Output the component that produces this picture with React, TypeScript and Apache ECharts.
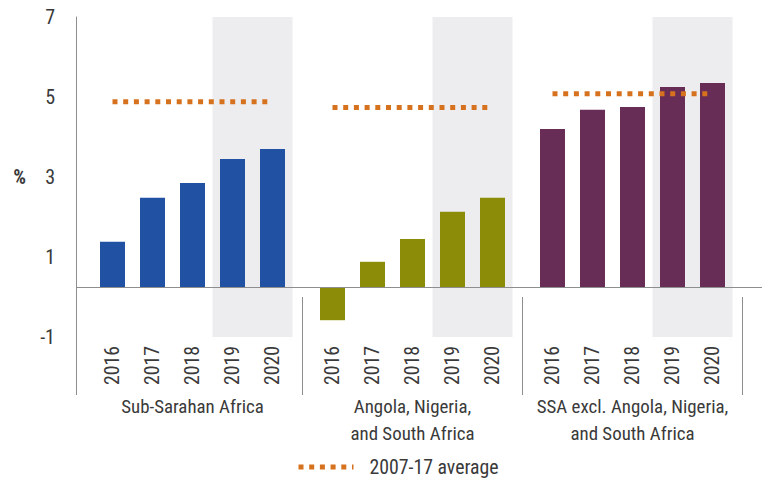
import React, { useEffect, useRef } from "react";
import * as echarts from "echarts";

// ---- data ----
const years = ["2016", "2017", "2018", "2019", "2020"];
const groupNames = [
  "Sub-Sarahan Africa",
  "Angola, Nigeria,\nand South Africa",
  "SSA excl. Angola, Nigeria,\nand South Africa",
];
const ssaValues = [1.13, 2.23, 2.6, 3.2, 3.45];
const angNigSaValues = [-0.83, 0.63, 1.2, 1.88, 2.23];
const ssaExclValues = [3.95, 4.43, 4.5, 5.0, 5.1];
const averages = [4.63, 4.49, 4.83];
const yTickLabels = [-1, 1, 3, 5, 7];
const shadedYears = ["2019", "2020"];
const legendLabel = "2007-17 average";

// ---- layout / style ----
const FONT_CANDIDATES = [
  "Liberation Sans Narrow",
  "Arial Narrow",
  "Roboto Condensed",
  "Noto Sans Condensed",
  "Open Sans Condensed",
  "DejaVu Sans Condensed",
  "Liberation Sans",
  "Roboto",
];
const TEXT = "#3a3a3a";
const AXIS = "#8e8e8e";
const COLORS = ["#2051a3", "#8c8c08", "#682d57"];
const AVG_COLOR = "#d6711e";
const SHADE = "#ededf0";
const GROUP_STEP = 5.5;
const X_MIN = -0.9125;
const X_MAX = 16.2375;

function pickFont(ctx: CanvasRenderingContext2D): string {
  const sample = "Sub-Sarahan Africa 2016";
  for (const f of FONT_CANDIDATES) {
    let ok = true;
    for (const base of ["monospace", "serif"]) {
      ctx.font = `20px ${base}`;
      const w0 = ctx.measureText(sample).width;
      ctx.font = `20px '${f}', ${base}`;
      const w1 = ctx.measureText(sample).width;
      if (Math.abs(w0 - w1) < 0.01) ok = false;
    }
    if (ok) return f;
  }
  return "sans-serif";
}

function fitSize(ctx: CanvasRenderingContext2D, family: string, text: string, target: number) {
  ctx.font = `20px ${family}`;
  const w = ctx.measureText(text).width;
  return Math.min(20, Math.round((20 * target) / w * 10) / 10);
}

export default function App() {
  const ref = useRef<HTMLDivElement>(null);

  useEffect(() => {
    if (!ref.current) return;
    const ctx = document.createElement("canvas").getContext("2d")!;
    const fam = pickFont(ctx);
    const FONT = `'${fam}', sans-serif`;
    const yearSize = fitSize(ctx, FONT, "2016", 39);
    const groupSize = Math.min(
      fitSize(ctx, FONT, "Sub-Sarahan Africa", 143),
      fitSize(ctx, FONT, "SSA excl. Angola, Nigeria,", 203)
    );
    const legendSize = fitSize(ctx, FONT, legendLabel, 129);

    const chart = echarts.init(ref.current, null, { renderer: "svg" });

    const seriesValues = [ssaValues, angNigSaValues, ssaExclValues];
    const pos = (g: number, i: number) => g * GROUP_STEP + i;
    const yearPositions: number[] = [];
    const yearLabelMap = new Map<number, string>();
    seriesValues.forEach((_, g) =>
      years.forEach((y, i) => {
        yearPositions.push(pos(g, i));
        yearLabelMap.set(pos(g, i), y);
      })
    );
    const groupCenters = groupNames.map((_, g) => pos(g, (years.length - 1) / 2));
    const groupLabelMap = new Map<number, string>();
    groupCenters.forEach((c, g) => groupLabelMap.set(c, groupNames[g]));
    const separators = [X_MIN];
    for (let g = 0; g < groupNames.length; g++) {
      separators.push(pos(g, years.length - 1) + (GROUP_STEP - (years.length - 1)) / 2);
    }

    const shadeIdx = shadedYears.map((y) => years.indexOf(y));
    const markAreas = groupNames.map((_, g) => [
      { xAxis: pos(g, Math.min(...shadeIdx)) - 0.5 },
      { xAxis: pos(g, Math.max(...shadeIdx)) + 0.5 },
    ]);

    const barSeries = seriesValues.map((vals, g) => ({
      type: "bar",
      name: groupNames[g],
      xAxisIndex: 0,
      yAxisIndex: 0,
      barWidth: 25,
      barGap: "-100%",
      itemStyle: { color: COLORS[g] },
      data: vals.map((v, i) => [pos(g, i), v]),
      z: 3,
      ...(g === 0
        ? {
            markArea: {
              silent: true,
              itemStyle: { color: SHADE },
              data: markAreas,
              z: 1,
            },
            markLine: {
              silent: true,
              symbol: ["none", "none"],
              label: { show: false },
              lineStyle: { color: AXIS, width: 1, type: "solid" },
              data: [{ yAxis: 0 }],
            },
          }
        : {}),
    }));

    const avgSeries = averages.map((a, g) => ({
      type: "line",
      name: legendLabel,
      xAxisIndex: 0,
      yAxisIndex: 0,
      symbol: "none",
      lineStyle: { color: AVG_COLOR, width: 5, type: [5, 5.7] },
      itemStyle: { color: AVG_COLOR },
      data: [
        [pos(g, 0), a],
        [pos(g, years.length - 1), a],
      ],
      z: 5,
    }));

    chart.setOption({
      animation: false,
      textStyle: { fontFamily: FONT, color: TEXT },
      grid: { left: 76, right: 0, top: 17, bottom: 141, containLabel: false },
      legend: {
        data: [legendLabel],
        left: 291,
        top: 452,
        itemWidth: 55,
        itemHeight: 14,
        selectedMode: false,
        lineStyle: { width: 5, type: [5, 5.7], color: AVG_COLOR },
        itemStyle: { color: "rgba(0,0,0,0)", opacity: 0, borderWidth: 0 },
        textStyle: {
          fontFamily: FONT,
          fontSize: legendSize,
          lineHeight: 20,
          color: TEXT,
          padding: [0, 0, 0, 11],
        },
      },
      xAxis: [
        {
          type: "value",
          min: X_MIN,
          max: X_MAX,
          position: "bottom",
          axisLine: { show: false },
          axisTick: { show: false },
          splitLine: { show: false },
          axisLabel: {
            customValues: yearPositions,
            rotate: 90,
            margin: 9,
            fontSize: yearSize,
            fontFamily: FONT,
            color: TEXT,
            hideOverlap: false,
            formatter: (v: number) => yearLabelMap.get(v) ?? "",
          },
        },
        {
          type: "value",
          min: X_MIN,
          max: X_MAX,
          position: "bottom",
          offset: 0,
          axisLine: { show: false },
          axisTick: {
            show: true,
            customValues: separators,
            length: 98,
            lineStyle: { color: AXIS, width: 1 },
          },
          splitLine: { show: false },
          axisLabel: {
            customValues: groupCenters,
            margin: 56,
            fontSize: groupSize,
            lineHeight: 27,
            fontFamily: FONT,
            color: TEXT,
            hideOverlap: false,
            formatter: (v: number) => groupLabelMap.get(v) ?? "",
          },
        },
      ],
      yAxis: [
        {
          type: "value",
          min: -1.25,
          max: 6.75,
          position: "left",
          axisLine: { show: true, onZero: false, lineStyle: { color: AXIS, width: 1 } },
          axisTick: { show: false },
          axisLabel: { show: false },
          splitLine: { show: false },
        },
        {
          type: "value",
          min: -1,
          max: 7,
          interval: 1,
          position: "left",
          offset: 0,
          name: "%",
          nameLocation: "middle",
          nameRotate: 0,
          nameGap: 50,
          nameTextStyle: { fontFamily: FONT, fontSize: 20, fontWeight: "bold", color: TEXT },
          axisLine: { show: false },
          axisTick: { show: false },
          splitLine: { show: false },
          axisLabel: {
            margin: 21,
            fontSize: 20,
            fontFamily: FONT,
            color: TEXT,
            formatter: (v: number) => (yTickLabels.includes(v) ? String(v) : ""),
          },
        },
      ],
      series: [...barSeries, ...avgSeries],
    });

    return () => chart.dispose();
  }, []);

  return (
    <div
      ref={ref}
      style={{ position: "fixed", left: 0, top: 0, width: 762, height: 478, background: "#fff" }}
    />
  );
}
